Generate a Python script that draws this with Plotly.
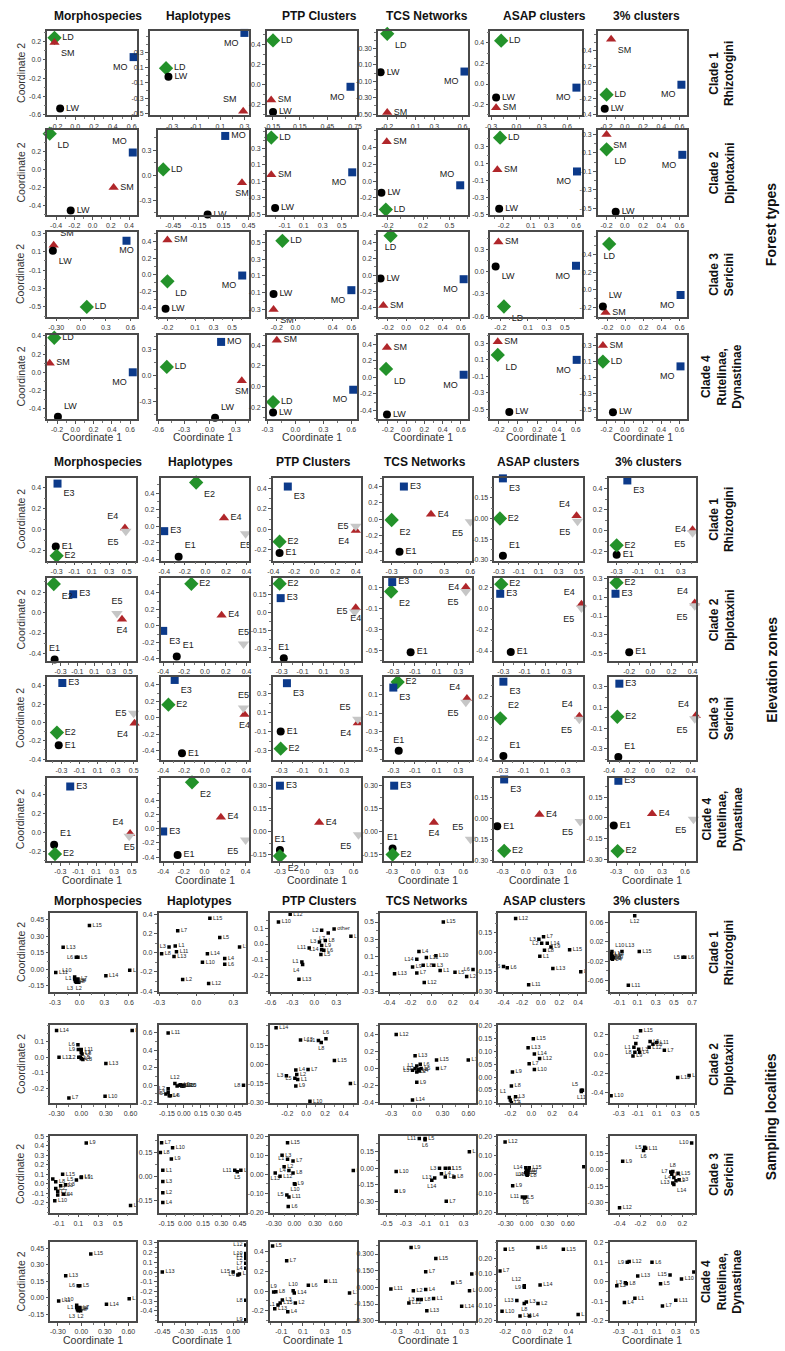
import plotly.graph_objects as go

W, H = 785, 1351

METHODS = ["Morphospecies", "Haplotypes", "PTP Clusters", "TCS Networks", "ASAP clusters", "3% clusters"]
CLADES = ["Clade 1<br>Rhizotogini", "Clade 2<br>Diplotaxini", "Clade 3<br>Sericini",
          "Clade 4<br>Rutelinae,<br>Dynastinae"]
SECTIONS = ["Forest types", "Elevation zones", "Sampling localities"]
FOREST_GROUPS = ["LD", "SM", "MO", "LW"]
ELEV_GROUPS = ["E1", "E2", "E3", "E4", "E5"]

# ---------------- Forest types (LD, SM, MO, LW), one list per method ----------------
FOREST_C1_X = [[-0.22, -0.22, 0.62, -0.16], [-0.35, 0.29, 0.30, -0.33], [-0.14, -0.16, 0.70, -0.14],
               [-0.20, -0.20, 0.62, -0.27], [-0.18, -0.24, 0.71, -0.24], [-0.20, -0.15, 0.62, -0.22]]
FOREST_C1_Y = [[0.24, 0.19, 0.03, -0.53], [0.09, -0.47, 0.55, -0.02], [0.44, -0.15, -0.02, -0.27],
               [0.48, -0.48, 0.02, 0.01], [0.42, -0.23, -0.035, -0.13], [-0.155, 0.54, -0.03, -0.33]]
FOREST_C2_X = [[-0.47, 0.23, 0.44, -0.24], [-0.57, 0.37, 0.17, -0.04], [-0.24, -0.24, 0.61, -0.20],
               [-0.22, -0.21, 0.62, -0.27], [-0.24, -0.27, 0.61, -0.25], [-0.20, -0.20, 0.63, -0.10]]
FOREST_C2_Y = [[0.40, -0.20, 0.19, -0.455], [0.07, -0.09, 0.47, -0.47], [0.43, -0.02, 0.01, -0.42],
               [-0.34, 0.47, -0.05, -0.14], [0.41, 0.03, 0.01, -0.43], [0.14, 0.30, 0.08, -0.54]]
FOREST_C3_X = [[0.07, -0.33, 0.55, -0.34], [-0.20, -0.20, 0.61, -0.22], [-0.14, -0.235, 0.60, -0.235],
               [-0.17, -0.25, 0.63, -0.28], [-0.16, -0.22, 0.62, -0.25], [-0.18, -0.22, 0.61, -0.25]]
FOREST_C3_Y = [[-0.50, 0.17, 0.22, 0.11], [-0.08, 0.42, -0.01, -0.41], [0.52, -0.30, -0.07, -0.115],
               [0.48, -0.37, -0.05, -0.04], [-0.47, 0.40, 0.08, 0.07], [0.52, -0.26, -0.06, -0.19]]
FOREST_C4_X = [[-0.23, -0.28, 0.63, -0.19], [-0.50, 0.37, 0.13, 0.06], [-0.24, -0.20, 0.62, -0.24],
               [-0.22, -0.21, 0.63, -0.21], [-0.21, -0.21, 0.61, -0.09], [-0.24, -0.24, 0.61, -0.13]]
FOREST_C4_Y = [[0.38, 0.10, 0.00, -0.49], [0.10, -0.06, 0.39, -0.49], [-0.15, 0.45, -0.03, -0.25],
               [0.10, 0.36, 0.03, -0.45], [0.16, 0.32, 0.10, -0.53], [0.10, 0.30, 0.04, -0.53]]

FOREST_C1_XT = [["-0.2", "0.0", "0.2", "0.4", "0.6"], ["-0.3", "-0.1", "0.1", "0.3"], ["-0.15", "0.15", "0.45", "0.75"],
                ["-0.2", "0.1", "0.3", "0.6"], ["-0.3", "0.0", "0.3", "0.6"], ["-0.2", "0.0", "0.2", "0.4", "0.6"]]
FOREST_C1_YT = [["-0.6", "-0.4", "-0.2", "0.0", "0.2"], ["-0.5", "-0.3", "-0.1", "0.1", "0.3"], ["-0.2", "0.0", "0.2", "0.4"],
                ["-0.50", "-0.30", "-0.10", "0.10", "0.30"], ["-0.2", "0.0", "0.2", "0.4"], ["-0.4", "-0.2", "0.0", "0.2", "0.4"]]
FOREST_C2_XT = [["-0.4", "-0.2", "0.0", "0.2", "0.4"], ["-0.45", "-0.15", "0.15", "0.45"], ["-0.1", "0.1", "0.3", "0.5"],
                ["-0.2", "0.2", "0.5"], ["-0.2", "0.1", "0.3", "0.6"], ["-0.2", "0.0", "0.2", "0.4", "0.6"]]
FOREST_C2_YT = [["-0.4", "-0.2", "0.0", "0.2"], ["-0.3", "0.0", "0.3"], ["-0.5", "-0.3", "-0.1", "0.1", "0.3"],
                ["-0.4", "-0.2", "0.0", "0.2", "0.4"], ["-0.5", "-0.3", "-0.1", "0.1", "0.3"], ["-0.5", "-0.3", "-0.1", "0.1", "0.3"]]
FOREST_C3_XT = [["-0.30", "0.0", "0.3", "0.6"], ["-0.2", "0.1", "0.3", "0.5"], ["-0.2", "0.0", "0.4", "0.6"],
                ["-0.2", "0.0", "0.2", "0.4", "0.6"], ["-0.2", "0.1", "0.3", "0.5"], ["-0.2", "0.0", "0.2", "0.4", "0.6"]]
FOREST_C3_YT = [["-0.5", "-0.3", "-0.1", "0.1", "0.3"], ["-0.4", "-0.2", "0.0", "0.2", "0.4"], ["-0.3", "-0.1", "0.1", "0.3", "0.5"],
                ["-0.4", "-0.2", "0.0", "0.2", "0.4"], ["-0.6", "-0.3", "0.0", "0.3"], ["-0.2", "0.0", "0.2", "0.4"]]
FOREST_C4_XT = [["-0.2", "0.0", "0.2", "0.4", "0.6"], ["-0.6", "-0.3", "0.0", "0.3"], ["-0.3", "0.0", "0.3", "0.6"],
                ["-0.2", "0.0", "0.2", "0.4", "0.6"], ["-0.2", "0.0", "0.2", "0.4", "0.6"], ["-0.2", "0.0", "0.2", "0.4", "0.6"]]
FOREST_C4_YT = [["-0.4", "-0.2", "0.0", "0.2", "0.4"], ["-0.3", "0.0", "0.3"], ["-0.2", "0.0", "0.2", "0.4"],
                ["-0.4", "-0.2", "0.0", "0.2", "0.4"], ["-0.5", "-0.3", "-0.1", "0.1", "0.3"], ["-0.5", "-0.3", "-0.1", "0.1", "0.3"]]

# axis windows
FOREST_C1_XR = [[-0.29, 0.65], [-0.48, 0.335], [-0.2, 0.76], [-0.29, 0.65], [-0.3, 0.77], [-0.29, 0.68]]
FOREST_C1_YR = [[-0.6, 0.31], [-0.52, 0.57], [-0.3, 0.53], [-0.51, 0.51], [-0.3, 0.51], [-0.41, 0.64]]
FOREST_C2_XR = [[-0.49, 0.48], [-0.63, 0.45], [-0.28, 0.65], [-0.3, 0.7], [-0.34, 0.66], [-0.29, 0.68]]
FOREST_C2_YR = [[-0.5, 0.43], [-0.47, 0.53], [-0.5, 0.51], [-0.4, 0.6], [-0.5, 0.49], [-0.57, 0.34]]
FOREST_C3_XR = [[-0.4, 0.67], [-0.3, 0.68], [-0.3, 0.65], [-0.3, 0.67], [-0.3, 0.68], [-0.3, 0.68]]
FOREST_C3_YR = [[-0.6, 0.31], [-0.5, 0.51], [-0.38, 0.62], [-0.5, 0.52], [-0.6, 0.53], [-0.3, 0.65]]
FOREST_C4_XR = [[-0.3, 0.67], [-0.6, 0.45], [-0.3, 0.65], [-0.3, 0.67], [-0.28, 0.66], [-0.29, 0.68]]
FOREST_C4_YR = [[-0.51, 0.41], [-0.5, 0.47], [-0.31, 0.5], [-0.5, 0.51], [-0.61, 0.4], [-0.61, 0.43]]

# label placement (LD SM MO LW)
FOREST_POS = [["r br bl r", "r tl bl r", "r r bl r", "br r bl r", "r r bl r", "r br bl r"],
              ["br r tl r", "r b r r", "r r bl r", "r r tl r", "r r bl r", "br br bl r"],
              ["r tr b br", "br r bl r", "r br bl r", "b r bl r", "br r bl br", "b r bl tr"],
              ["r r bl tr", "r b r tr", "r r bl r", "br r bl r", "br r bl r", "r r bl r"]]

# ---------------- Elevation zones (E1..E5) ----------------
ELEV_C1_X = [[-0.31, -0.30, -0.29, 0.48, 0.49], [-0.26, -0.09, -0.40, 0.18, 0.39], [-0.34, -0.34, -0.26, 0.40, 0.40],
             [-0.21, -0.30, -0.16, 0.15, 0.60], [-0.26, -0.29, -0.26, 0.48, 0.49], [-0.30, -0.30, -0.20, 0.41, 0.41]]
ELEV_C1_Y = [[-0.16, -0.25, 0.44, 0.015, -0.015], [-0.37, 0.53, -0.06, 0.10, -0.09], [-0.23, -0.12, 0.42, -0.01, 0.03],
             [-0.40, -0.01, 0.40, 0.06, -0.03], [-0.27, 0.00, 0.29, 0.02, -0.02], [-0.23, -0.14, 0.48, 0.01, -0.02]]
ELEV_C2_X = [[-0.37, -0.38, -0.15, 0.43, 0.37], [-0.27, -0.13, -0.40, 0.16, 0.37], [-0.28, -0.32, -0.31, 0.41, 0.40],
             [-0.14, -0.32, -0.31, 0.37, 0.37], [-0.23, -0.32, -0.33, 0.44, 0.44], [-0.20, -0.32, -0.33, 0.42, 0.42]]
ELEV_C2_Y = [[-0.46, 0.28, 0.18, -0.065, -0.01], [-0.37, 0.51, -0.06, 0.13, -0.22], [-0.38, 0.24, 0.12, 0.04, 0.005],
             [-0.52, 0.06, 0.15, 0.10, 0.06], [-0.41, 0.23, 0.14, 0.04, 0.005], [-0.49, 0.26, 0.14, 0.04, 0.01]]
ELEV_C3_X = [[-0.33, -0.35, -0.29, 0.51, 0.50], [-0.22, -0.35, -0.29, 0.38, 0.37], [-0.31, -0.31, -0.25, 0.43, 0.43],
             [-0.25, -0.26, -0.30, 0.38, 0.37], [-0.29, -0.32, -0.29, 0.43, 0.43], [-0.31, -0.32, -0.30, 0.45, 0.44]]
ELEV_C3_Y = [[-0.25, -0.11, 0.43, -0.01, 0.10], [-0.43, 0.16, 0.46, 0.04, 0.12], [-0.10, -0.28, 0.41, -0.01, 0.03],
             [-0.51, 0.24, 0.18, 0.06, 0.02], [-0.37, -0.01, 0.34, 0.01, -0.02], [-0.38, 0.01, 0.33, 0.02, -0.01]]
ELEV_C4_X = [[-0.37, -0.36, -0.19, 0.48, 0.47], [-0.26, -0.12, -0.40, 0.16, 0.40], [-0.30, -0.30, -0.30, 0.18, 0.66],
             [-0.29, -0.29, -0.27, 0.23, 0.69], [-0.37, -0.28, -0.28, 0.18, 0.71], [-0.33, -0.28, -0.27, 0.17, 0.71]]
ELEV_C4_Y = [[-0.13, -0.23, 0.49, -0.01, -0.04], [-0.37, 0.65, -0.04, 0.16, -0.16], [-0.12, -0.16, 0.30, 0.06, -0.02],
             [-0.11, -0.15, 0.30, 0.06, -0.05], [-0.055, -0.23, 0.28, 0.03, -0.02], [-0.055, -0.24, 0.27, 0.03, -0.01]]

ELEV_C1_XT = [["-0.3", "-0.1", "0.1", "0.3", "0.5"], ["-0.4", "-0.2", "0.0", "0.2", "0.4"], ["-0.4", "-0.2", "0.0", "0.2", "0.4"],
              ["-0.3", "0.0", "0.3", "0.6"], ["-0.3", "-0.1", "0.1", "0.3", "0.5"], ["-0.3", "-0.1", "0.1", "0.3"]]
ELEV_C1_YT = [["-0.2", "0.0", "0.2", "0.4"], ["-0.4", "-0.2", "0.0", "0.2", "0.4"], ["-0.2", "0.0", "0.2", "0.4"],
              ["-0.4", "-0.2", "0.0", "0.2", "0.4"], ["-0.30", "-0.15", "0.00", "0.15"], ["-0.2", "0.0", "0.2", "0.4"]]
ELEV_C2_XT = [["-0.3", "-0.1", "0.1", "0.3", "0.5"], ["-0.4", "-0.2", "0.0", "0.2", "0.4"], ["-0.3", "-0.1", "0.1", "0.3"],
              ["-0.3", "-0.1", "0.1", "0.3"], ["-0.3", "-0.1", "0.1", "0.3"], ["-0.4", "-0.2", "0.0", "0.2", "0.4"]]
ELEV_C2_YT = [["-0.4", "-0.2", "0.0", "0.2"], ["-0.4", "-0.2", "0.0", "0.2", "0.4"], ["-0.3", "-0.15", "0.0", "0.15"],
              ["-0.5", "-0.3", "-0.1", "0.1"], ["-0.4", "-0.2", "0.0", "0.2"], ["-0.5", "-0.3", "-0.1", "0.1", "0.3"]]
ELEV_C3_XT = [["-0.3", "-0.1", "0.1", "0.3", "0.5"], ["-0.4", "-0.2", "0.0", "0.2", "0.4"], ["-0.3", "-0.1", "0.1", "0.3"],
              ["-0.3", "-0.1", "0.1", "0.3"], ["-0.3", "-0.1", "0.1", "0.3"], ["-0.4", "-0.2", "0.0", "0.2", "0.4"]]
ELEV_C3_YT = [["-0.4", "-0.2", "0.0", "0.2", "0.4"], ["-0.4", "-0.2", "0.0", "0.2", "0.4"], ["-0.3", "-0.1", "0.1", "0.3"],
              ["-0.5", "-0.3", "-0.1", "0.1", "0.3"], ["-0.4", "-0.2", "0.0", "0.2"], ["-0.3", "-0.1", "0.1", "0.3"]]
ELEV_C4_XT = [["-0.3", "-0.1", "0.1", "0.3", "0.5"], ["-0.4", "-0.2", "0.0", "0.2", "0.4"], ["-0.3", "0.0", "0.3", "0.6"],
              ["-0.3", "0.0", "0.3", "0.6"], ["-0.3", "0.0", "0.3", "0.6"], ["-0.3", "0.0", "0.3", "0.6"]]
ELEV_C4_YT = [["-0.2", "0.0", "0.2", "0.4"], ["-0.4", "-0.2", "0.0", "0.2", "0.4"], ["-0.15", "0.00", "0.15", "0.30"],
              ["-0.15", "0.00", "0.15", "0.30"], ["-0.30", "-0.15", "0.00", "0.15"], ["-0.30", "-0.15", "0.00", "0.15"]]

ELEV_C1_XR = [[-0.4, 0.6], [-0.43, 0.42], [-0.4, 0.45], [-0.38, 0.61], [-0.34, 0.54], [-0.37, 0.44]]
ELEV_C1_YR = [[-0.29, 0.49], [-0.41, 0.58], [-0.3, 0.5], [-0.5, 0.5], [-0.3, 0.29], [-0.28, 0.5]]
ELEV_C2_XR = [[-0.45, 0.59], [-0.42, 0.42], [-0.38, 0.46], [-0.38, 0.42], [-0.38, 0.45], [-0.39, 0.43]]
ELEV_C2_YR = [[-0.47, 0.33], [-0.42, 0.57], [-0.4, 0.28], [-0.6, 0.18], [-0.49, 0.28], [-0.58, 0.3]]
ELEV_C3_XR = [[-0.45, 0.52], [-0.42, 0.42], [-0.38, 0.46], [-0.38, 0.42], [-0.37, 0.46], [-0.4, 0.45]]
ELEV_C3_YR = [[-0.4, 0.49], [-0.5, 0.49], [-0.39, 0.47], [-0.6, 0.29], [-0.4, 0.38], [-0.4, 0.39]]
ELEV_C4_XR = [[-0.44, 0.54], [-0.42, 0.43], [-0.38, 0.69], [-0.39, 0.7], [-0.4, 0.74], [-0.39, 0.74]]
ELEV_C4_YR = [[-0.3, 0.58], [-0.45, 0.71], [-0.19, 0.35], [-0.19, 0.35], [-0.3, 0.29], [-0.31, 0.29]]

ELEV_POS = [["r r br tl bl", "tr br r r b", "r r br bl l", "r br r r bl", "tr r br tl bl", "r r br l bl"],
            ["t br r b t", "tr r br r t", "t r r b l", "r br r l bl", "r r r tl bl", "r r r tl bl"],
            ["r r r bl l", "r r br b t", "r r br bl tl", "t r br tl bl", "tr tr br tl bl", "tr r r tl bl"],
            ["tr r r tl b", "r br r r bl", "t br r r bl", "t r r b tl", "r r br r bl", "r r r r bl"]]

# ---------------- Sampling localities ----------------
MORPH_LOC_N = ["L15", "L13", "L6", "L5", "L11", "L14", "L12", "L10", "L1", "L9", "L7", "L3", "L2", "L4", "L8"]
MORPH_LOC_X = [0.12, -0.20, -0.04, -0.02, -0.29, 0.32, 0.61, -0.06, -0.06, -0.05, -0.02, -0.04, -0.01, -0.03, -0.05]
MORPH_LOC_Y = [0.40, 0.20, 0.11, 0.11, -0.03, -0.06, -0.01, -0.07, -0.09, -0.10, -0.09, -0.12, -0.12, -0.10, -0.11]

LOC_C1_N = [MORPH_LOC_N,
            ["L15", "L7", "L5", "L9", "L3", "L1", "L11", "L8", "L13", "L14", "L4", "L6", "L10", "L2", "L12"],
            ["L12", "L10", "L2", "other", "L7", "L15", "L8", "L3", "L9", "L11", "L14", "L6", "L5", "L1", "L4", "L13"],
            ["L15", "L4", "L10", "L14", "L11", "L9", "L8", "L3", "L1", "L7", "L5", "L6", "L2", "L13", "L12"],
            ["L12", "L7", "L3", "L2", "L14", "L9", "L8", "L1", "L15", "L5", "L6", "L13", "L4", "L11"],
            ["L12", "L10", "L13", "L15", "L5", "L6", "L11", "L1", "L2", "L3", "L4", "L7", "L8", "L9", "L14"]]
LOC_C1_X = [MORPH_LOC_X,
            [0.11, -0.15, 0.19, 0.35, -0.22, -0.17, -0.16, -0.28, -0.18, 0.09, 0.23, 0.23, 0.05, -0.11, 0.10],
            [-0.33, -0.49, 0.10, 0.27, 0.19, 0.50, 0.15, 0.07, 0.10, -0.07, 0.10, 0.13, 0.09, -0.17, -0.16, -0.21],
            [0.11, -0.12, 0.04, -0.14, -0.05, -0.18, -0.08, 0.02, 0.08, -0.14, 0.22, 0.39, 0.33, -0.35, -0.07],
            [-0.27, 0.03, -0.02, 0.01, 0.07, 0.11, 0.04, -0.01, 0.31, -0.40, -0.36, 0.13, 0.43, -0.13],
            [0.07, -0.18, -0.07, 0.12, 0.60, 0.62, 0.00, -0.19, -0.185, -0.18, -0.175, -0.17, -0.19, -0.16, -0.185]]
LOC_C1_Y = [MORPH_LOC_Y,
            [0.36, 0.23, 0.16, 0.06, 0.06, 0.07, 0.01, -0.01, -0.04, -0.01, -0.06, -0.12, -0.10, -0.28, -0.32],
            [0.19, 0.14, 0.087, 0.095, 0.07, 0.05, 0.023, 0.013, -0.01, -0.025, -0.036, -0.04, -0.067, -0.115, -0.13, -0.225],
            [0.50, 0.16, 0.11, 0.07, 0.09, -0.02, 0.00, 0.00, -0.06, -0.09, -0.08, -0.05, -0.13, -0.10, -0.20],
            [0.26, 0.12, 0.10, 0.07, 0.07, 0.04, 0.015, -0.03, 0.02, -0.11, -0.12, -0.125, -0.15, -0.25],
            [0.074, 0.0, 0.0, 0.0, -0.012, -0.012, -0.07, -0.004, -0.008, -0.012, -0.016, -0.01, -0.014, -0.013, -0.006]]

LOC_C2_N = [["L14", "L15", "L6", "L9", "L11", "L1", "L8", "L12", "L2", "L5", "L4", "L3", "L13", "L7", "L10"],
            ["L11", "L8", "L12", "L14", "L15", "L1", "L10", "L9", "L7", "L13", "L2", "L3", "L5", "L4", "L6"],
            ["L14", "L13", "L11", "L6", "L8", "L15", "L7", "L4", "L2", "L3", "L5", "L1", "L9", "L10", "L12"],
            ["L12", "L13", "L15", "L10", "L7", "L6", "L1", "L11", "L3", "L8", "L2", "L4", "L5", "L9", "L14"],
            ["L15", "L13", "L14", "L12", "L7", "L10", "L9", "L8", "L5", "L6", "L11", "L1", "L3", "L2", "L4"],
            ["L15", "L2", "L5", "L11", "L6", "L12", "L1", "L3", "L8", "L4", "L9", "L7", "L13", "L14", "L10"]]
LOC_C2_X = [[-0.30, 0.62, -0.04, -0.035, 0.0, 0.0, 0.01, -0.27, -0.03, -0.01, 0.0, 0.02, 0.30, -0.15, 0.29],
            [-0.14, 0.53, -0.08, -0.04, 0.0, -0.06, 0.0, -0.03, -0.01, -0.02, -0.14, -0.14, -0.16, -0.13, -0.12],
            [-0.32, -0.06, 0.13, 0.21, 0.16, 0.30, 0.02, -0.11, -0.10, -0.21, -0.12, -0.09, -0.11, 0.04, 0.47],
            [-0.24, -0.02, 0.23, 0.60, 0.24, 0.04, 0.0, -0.02, -0.05, 0.02, 0.0, 0.03, 0.05, 0.0, -0.05],
            [0.02, -0.03, 0.03, 0.08, -0.02, 0.03, -0.18, -0.19, 0.48, 0.49, 0.48, -0.21, -0.15, -0.20, -0.19],
            [-0.07, -0.12, 0.03, 0.10, 0.06, 0.02, -0.14, -0.09, -0.13, -0.08, -0.15, 0.18, 0.32, 0.44, -0.38]]
LOC_C2_Y = [[0.17, 0.17, 0.08, 0.05, 0.05, 0.03, 0.02, 0.0, 0.0, 0.0, -0.01, -0.015, -0.04, -0.26, -0.25],
            [0.60, 0.0, 0.02, 0.0, 0.0, -0.01, -0.01, 0.005, -0.005, -0.01, -0.04, -0.08, -0.10, -0.12, -0.12],
            [0.285, 0.19, 0.185, 0.20, 0.17, 0.03, -0.04, -0.045, -0.08, -0.09, -0.11, -0.12, -0.17, -0.29, -0.15],
            [0.40, 0.15, 0.10, 0.10, 0.0, 0.05, 0.03, 0.0, -0.02, -0.01, -0.04, -0.03, 0.0, -0.16, -0.37],
            [0.15, 0.115, 0.09, 0.073, 0.052, 0.03, 0.02, -0.035, -0.052, -0.052, -0.056, -0.08, -0.077, -0.09, -0.10],
            [0.24, 0.11, 0.13, 0.12, 0.10, 0.07, 0.07, 0.05, 0.02, 0.02, -0.02, 0.04, -0.24, -0.22, -0.43]]

LOC_C3_N = [["L9", "L15", "L5", "L6", "L11", "L1", "L8", "L3", "L13", "L2", "L7", "L4", "L14", "L10", "L12"],
            ["L7", "L10", "L8", "L9", "L1", "L3", "L2", "L4", "L11", "L6", "L5"],
            ["L15", "L3", "L1", "L7", "L2", "L4", "L8", "L13", "L12", "L9", "L10", "L5", "L11", "L6", "L14"],
            ["L11", "L5", "L6", "L10", "L9", "L15", "L3", "L1", "L4", "L13", "L2", "L14", "L8", "L7", "L12"],
            ["L12", "L14", "L15", "L1", "L3", "L4", "L2", "L7", "L9", "L11", "L6", "L5", "L8", "L13", "L10"],
            ["L10", "L5", "L11", "L6", "L9", "L8", "L7", "L15", "L4", "L3", "L13", "L14", "L12", "L1", "L2"]]
LOC_C3_X = [[0.18, -0.06, 0.08, 0.13, 0.13, -0.16, -0.13, -0.03, -0.08, -0.13, -0.11, -0.05, -0.11, -0.14, 0.63],
            [-0.19, -0.10, -0.20, -0.11, -0.18, -0.18, -0.18, -0.18, 0.41, 0.46, 0.43],
            [-0.10, -0.18, -0.10, -0.02, -0.15, -0.08, -0.02, -0.28, -0.21, 0.0, 0.01, -0.11, -0.08, -0.09, 0.86],
            [-0.16, -0.10, -0.10, -0.40, -0.40, 0.15, 0.05, 0.11, 0.07, 0.0, 0.11, -0.03, 0.20, 0.12, 0.36],
            [-0.31, -0.01, 0.04, 0.0, 0.02, 0.0, -0.01, 0.03, -0.20, -0.06, -0.01, -0.03, 0.01, 0.02, 0.83],
            [0.29, -0.16, -0.15, -0.17, -0.37, 0.11, 0.09, 0.16, 0.12, 0.17, 0.11, 0.12, -0.40, 0.10, 0.14]]
LOC_C3_Y = [[0.43, 0.10, 0.04, 0.07, 0.065, 0.05, 0.02, -0.01, -0.02, -0.05, -0.08, -0.11, -0.12, -0.18, -0.23],
            [0.21, 0.18, 0.15, 0.11, 0.04, -0.03, -0.10, -0.16, 0.04, 0.04, 0.03],
            [0.166, 0.10, 0.08, 0.07, 0.04, 0.02, 0.007, 0.007, -0.01, -0.05, -0.052, -0.11, -0.12, -0.17, 0.02],
            [0.27, 0.27, 0.26, -0.03, -0.21, 0.0, 0.0, 0.0, -0.05, -0.09, -0.08, -0.11, -0.08, -0.30, 0.15],
            [0.17, 0.035, 0.035, 0.02, 0.01, 0.0, 0.01, 0.02, -0.06, -0.12, -0.12, -0.125, -0.005, 0.0, 0.04],
            [0.25, 0.21, 0.20, 0.18, 0.08, -0.015, -0.02, -0.03, -0.07, -0.09, -0.12, -0.135, -0.35, -0.04, -0.10]]

LOC_C4_N = [MORPH_LOC_N,
            ["L13", "L15", "L12", "L10", "L2", "L7", "L4", "L14", "L6", "L8", "L9", "L1"],
            ["L5", "L7", "L11", "L6", "L10", "L14", "L9", "L8", "L3", "L2", "L1", "L13", "L4", "L15", "L12"],
            ["L9", "L15", "L7", "L5", "L10", "L11", "L2", "L4", "L6", "L3", "L8", "L12", "L1", "L14", "L13"],
            ["L5", "L6", "L15", "L7", "L14", "L12", "L9", "L13", "L3", "L8", "L2", "L10", "L11", "L4", "L1"],
            ["L9", "L12", "L6", "L13", "L15", "L10", "L3", "L8", "L2", "L5", "L1", "L4", "L11", "L7", "L14"]]
LOC_C4_X = [MORPH_LOC_X,
            [-0.45, 0.0, 0.08, 0.08, 0.08, 0.08, 0.08, 0.04, 0.03, 0.08, 0.08, 0.08],
            [-0.18, -0.05, 0.31, 0.15, 0.01, 0.02, -0.17, -0.15, -0.09, 0.03, -0.13, -0.16, -0.04, -0.11, 0.53],
            [-0.17, 0.05, -0.04, 0.20, 0.37, -0.35, -0.15, -0.04, 0.35, -0.11, -0.08, -0.19, 0.03, 0.28, -0.03],
            [-0.20, 0.11, 0.35, -0.25, 0.13, -0.02, -0.02, -0.09, 0.0, -0.02, 0.11, -0.23, -0.06, 0.03, 0.49],
            [-0.21, -0.19, 0.05, -0.10, 0.24, 0.36, -0.23, -0.22, -0.32, 0.14, -0.13, -0.24, 0.30, 0.16, 0.49]]
LOC_C4_Y = [MORPH_LOC_Y,
            [0.0, 0.0, 0.28, 0.19, 0.14, 0.09, 0.04, -0.02, -0.03, -0.29, -0.49, 0.17],
            [0.46, 0.31, 0.10, 0.06, 0.005, -0.02, -0.01, -0.005, -0.09, -0.12, -0.14, -0.18, -0.21, -0.12, -0.02],
            [0.36, 0.26, 0.14, 0.04, 0.12, -0.015, -0.03, -0.02, -0.03, -0.11, -0.11, -0.14, -0.10, -0.17, -0.21],
            [0.26, 0.27, 0.26, 0.12, 0.03, 0.025, 0.015, -0.07, -0.08, -0.09, -0.09, -0.14, -0.17, -0.17, -0.16],
            [0.10, 0.105, 0.10, 0.03, 0.035, 0.015, -0.005, -0.01, -0.02, -0.01, -0.085, -0.107, -0.095, -0.125, 0.05]]

LOC_C1_XT = [["-0.3", "0.0", "0.3", "0.6"], ["-0.3", "0.0", "0.3"], ["-0.6", "-0.3", "0.0", "0.3"],
             ["-0.4", "-0.2", "0.0", "0.2", "0.4"], ["-0.4", "-0.2", "0.0", "0.2", "0.4"], ["-0.1", "0.1", "0.3", "0.5", "0.7"]]
LOC_C1_YT = [["-0.15", "0.00", "0.15", "0.30", "0.45"], ["-0.4", "-0.2", "0.0", "0.2", "0.4"], ["-0.2", "-0.1", "0.0", "0.1"],
             ["-0.3", "-0.1", "0.1", "0.3", "0.5"], ["-0.30", "-0.15", "0.00", "0.15"], ["-0.06", "-0.02", "0.02", "0.06"]]
LOC_C2_XT = [["-0.30", "0.00", "0.30", "0.60"], ["-0.15", "0.00", "0.15", "0.30", "0.45"], ["-0.4", "-0.2", "0.0", "0.2", "0.4"],
             ["-0.3", "0.0", "0.30", "0.60"], ["-0.2", "0.0", "0.2", "0.4"], ["-0.3", "-0.1", "0.1", "0.3", "0.5"]]
LOC_C2_YT = [["-0.2", "-0.1", "0.0", "0.1"], ["-0.2", "0.0", "0.2", "0.4", "0.6"], ["-0.30", "-0.15", "0.00", "0.15"],
             ["-0.4", "-0.2", "0.0", "0.2", "0.4"], ["-0.10", "-0.05", "0.00", "0.05", "0.10", "0.15", "0.20"],
             ["-0.4", "-0.2", "0.0", "0.2"]]
LOC_C3_XT = [["-0.1", "0.1", "0.3", "0.5", "0.7"], ["-0.15", "0.00", "0.15", "0.30", "0.45"], ["-0.30", "0.00", "0.30", "0.60"],
             ["-0.5", "-0.3", "-0.1", "0.1", "0.3"], ["-0.30", "0.00", "0.30", "0.60"], ["-0.4", "-0.2", "0.0", "0.2"]]
LOC_C3_YT = [["-0.2", "-0.1", "0.0", "0.1", "0.2", "0.3", "0.4", "0.5"], ["-0.15", "0.00", "0.15"],
             ["-0.20", "-0.10", "0.00", "0.10", "0.20"], ["-0.30", "-0.15", "0.00", "0.15"],
             ["-0.20", "-0.10", "0.00", "0.10", "0.20"], ["-0.30", "-0.15", "0.00", "0.15"]]
LOC_C4_XT = [["-0.30", "0.00", "0.30", "0.60"], ["-0.45", "-0.30", "-0.15", "0.00"], ["-0.1", "0.1", "0.3", "0.5"],
             ["-0.3", "-0.1", "0.1", "0.3"], ["-0.2", "0.0", "0.2", "0.4"], ["-0.3", "-0.1", "0.1", "0.3", "0.5"]]
LOC_C4_YT = [["-0.15", "0.00", "0.15", "0.30", "0.45"], ["-0.4", "-0.3", "-0.2", "-0.1", "0.0", "0.1", "0.2", "0.3"],
             ["-0.2", "0.0", "0.2", "0.4"], ["-0.300", "-0.150", "0.000", "0.150", "0.300"],
             ["-0.20", "-0.10", "0.00", "0.10", "0.20"], ["-0.2", "-0.1", "0.0", "0.1", "0.2"]]

LOC_C1_XR = [[-0.35, 0.68], [-0.3, 0.4], [-0.6, 0.57], [-0.48, 0.41], [-0.45, 0.47], [-0.2, 0.73]]
LOC_C1_YR = [[-0.2, 0.51], [-0.4, 0.41], [-0.3, 0.195], [-0.3, 0.6], [-0.3, 0.3], [-0.082, 0.079]]
LOC_C2_XR = [[-0.37, 0.66], [-0.22, 0.55], [-0.38, 0.53], [-0.42, 0.68], [-0.31, 0.51], [-0.39, 0.5]]
LOC_C2_YR = [[-0.29, 0.2], [-0.2, 0.68], [-0.3, 0.3], [-0.4, 0.5], [-0.1, 0.2], [-0.5, 0.29]]
LOC_C3_XR = [[-0.18, 0.68], [-0.21, 0.5], [-0.35, 0.9], [-0.56, 0.42], [-0.4, 0.84], [-0.49, 0.32]]
LOC_C3_YR = [[-0.3, 0.5], [-0.22, 0.25], [-0.2, 0.2], [-0.4, 0.29], [-0.2, 0.2], [-0.39, 0.31]]
LOC_C4_XR = [[-0.39, 0.69], [-0.47, 0.08], [-0.2, 0.59], [-0.44, 0.4], [-0.26, 0.55], [-0.39, 0.5]]
LOC_C4_YR = [[-0.21, 0.5], [-0.5, 0.3], [-0.3, 0.49], [-0.3, 0.4], [-0.2, 0.3], [-0.2, 0.2]]

# label side for locality points (default: right of the point)
LOC_POS = [
    [{"L6": "l", "L10": "tl", "L1": "l", "L3": "bl", "L2": "b"}, {"L3": "l"},
     {"L2": "l", "L7": "bl", "L3": "l", "L11": "l", "L14": "l", "L1": "l", "L4": "bl"},
     {"L14": "l", "L6": "l"}, {"L3": "l", "L2": "l", "L5": "l"},
     {"L12": "b", "L13": "tr", "L10": "tr", "L5": "l"}],
    [{"L6": "l", "L9": "l", "L2": "l"}, {"L8": "l", "L12": "t", "L5": "l", "L2": "l", "L3": "l"},
     {"L11": "l", "L6": "t", "L8": "b", "L5": "l", "L3": "l"}, {"L1": "l", "L3": "l", "L11": "l"},
     {"L5": "tl", "L1": "tl", "L11": "b"}, {"L2": "t", "L1": "l", "L8": "l"}],
    [{"L5": "l", "L1": "l"}, {"L11": "l", "L5": "b"}, {"L1": "l", "L4": "l", "L13": "b", "L10": "b", "L5": "l"},
     {"L11": "l", "L3": "l", "L6": "b", "L13": "l", "L14": "b"},
     {"L14": "l", "L11": "l", "L6": "b", "L4": "l", "L13": "l"},
     {"L10": "l", "L5": "l", "L6": "b", "L8": "t", "L7": "l", "L4": "l", "L13": "l", "L14": "br"}],
    [{"L6": "l", "L10": "tl", "L1": "l", "L3": "bl", "L2": "b"},
     {"L12": "l", "L10": "l", "L2": "l", "L7": "l", "L4": "l", "L8": "l", "L9": "l", "L1": "l", "L15": "l", "L6": "l"},
     {"L10": "t", "L9": "t", "L1": "l"}, {"L3": "l"}, {"L12": "tl", "L9": "l", "L13": "l", "L8": "b"},
     {"L9": "l", "L15": "l", "L3": "l"}],
]

FOREST = [(FOREST_C1_X, FOREST_C1_Y, FOREST_C1_XT, FOREST_C1_YT, FOREST_C1_XR, FOREST_C1_YR),
          (FOREST_C2_X, FOREST_C2_Y, FOREST_C2_XT, FOREST_C2_YT, FOREST_C2_XR, FOREST_C2_YR),
          (FOREST_C3_X, FOREST_C3_Y, FOREST_C3_XT, FOREST_C3_YT, FOREST_C3_XR, FOREST_C3_YR),
          (FOREST_C4_X, FOREST_C4_Y, FOREST_C4_XT, FOREST_C4_YT, FOREST_C4_XR, FOREST_C4_YR)]
ELEV = [(ELEV_C1_X, ELEV_C1_Y, ELEV_C1_XT, ELEV_C1_YT, ELEV_C1_XR, ELEV_C1_YR),
        (ELEV_C2_X, ELEV_C2_Y, ELEV_C2_XT, ELEV_C2_YT, ELEV_C2_XR, ELEV_C2_YR),
        (ELEV_C3_X, ELEV_C3_Y, ELEV_C3_XT, ELEV_C3_YT, ELEV_C3_XR, ELEV_C3_YR),
        (ELEV_C4_X, ELEV_C4_Y, ELEV_C4_XT, ELEV_C4_YT, ELEV_C4_XR, ELEV_C4_YR)]
LOC = [(LOC_C1_N, LOC_C1_X, LOC_C1_Y, LOC_C1_XT, LOC_C1_YT, LOC_C1_XR, LOC_C1_YR),
       (LOC_C2_N, LOC_C2_X, LOC_C2_Y, LOC_C2_XT, LOC_C2_YT, LOC_C2_XR, LOC_C2_YR),
       (LOC_C3_N, LOC_C3_X, LOC_C3_Y, LOC_C3_XT, LOC_C3_YT, LOC_C3_XR, LOC_C3_YR),
       (LOC_C4_N, LOC_C4_X, LOC_C4_Y, LOC_C4_XT, LOC_C4_YT, LOC_C4_XR, LOC_C4_YR)]

# ---------------- styling / geometry ----------------
FONT = "Liberation Sans, Arial, sans-serif"
GREEN, RED, BLUE, GREY = "#23922a", "#b0262a", "#0c3a8a", "#c6c6c6"
FOREST_STYLE = {"LD": ("diamond", GREEN, 11), "SM": ("triangle-up", RED, 9),
                "MO": ("square", BLUE, 8), "LW": ("circle", "#000000", 8)}
ELEV_STYLE = {"E1": ("circle", "#000000", 8), "E2": ("diamond", GREEN, 11), "E3": ("square", BLUE, 8),
              "E4": ("triangle-up", RED, 9), "E5": ("triangle-down", GREY, 10)}
POS = {"r": "middle right", "l": "middle left", "t": "top center", "b": "bottom center",
       "tr": "top right", "tl": "top left", "br": "bottom right", "bl": "bottom left"}

# panel boxes in pixels: columns (left, right), rows (top, bottom)
SEC_COLS = [[(42, 133), (154, 247), (265, 356), (378, 469), (492, 585), (601, 692)],
            [(42, 132), (157, 247), (271, 361), (384, 473), (496, 586), (612, 701)],
            [(45, 132), (155, 244), (268, 356), (380, 477), (500, 588), (613, 700)]]
SEC_ROWS = [[(28, 113), (128, 213), (230, 315), (333, 418)],
            [(477, 560), (578, 661), (677, 760), (778, 862)],
            [(914, 993), (1027, 1105), (1138, 1215), (1245, 1324)]]
TITLE_Y = [13, 461, 902]
TITLE_X = [[93, 195, 318, 428, 547, 650], [93, 198, 312, 425, 541, 652], [93, 196, 318, 428, 547, 650]]
XLABEL_Y = [436, 881, 1343]


def px(x):
    return x / W


def py(y):
    return 1 - y / H


def make_axis(dom, rng, labels, anchor):
    vals = [float(v) for v in labels]
    step = min(b - a for a, b in zip(vals, vals[1:]))
    span = rng[1] - rng[0]
    return dict(domain=dom, range=[rng[0] - 0.006 * span, rng[1] + 0.006 * span],
                tickmode="array", tickvals=vals, ticktext=labels, tickangle=0,
                showgrid=False, zeroline=False, showline=True, mirror=True,
                linecolor="#4a4a4a", linewidth=1.6,
                ticks="outside", ticklen=3, tickwidth=1, tickcolor="#555555",
                tickfont=dict(family=FONT, size=7, color="#333333"),
                minor=dict(ticks="outside", ticklen=2, tickwidth=0.8, tickcolor="#777777",
                           tickmode="linear", tick0=vals[0], dtick=step / 2),
                anchor=anchor, fixedrange=True)


fig = go.Figure()
axes = {}
ann = []
n = 0
for s in range(3):
    for c in range(4):
        for m in range(6):
            n += 1
            left, right = SEC_COLS[s][m]
            if s == 0 and c == 0 and m == 1:
                left = 146
            top, bottom = SEC_ROWS[s][c]
            xa = "x" if n == 1 else f"x{n}"
            ya = "y" if n == 1 else f"y{n}"
            if s < 2:
                xs_all, ys_all, xt_all, yt_all, xr_all, yr_all = (FOREST if s == 0 else ELEV)[c]
                groups = FOREST_GROUPS if s == 0 else ELEV_GROUPS
                style = FOREST_STYLE if s == 0 else ELEV_STYLE
                pos = (FOREST_POS if s == 0 else ELEV_POS)[c][m].split()
                fig.add_trace(go.Scatter(
                    x=xs_all[m], y=ys_all[m], xaxis=xa, yaxis=ya, mode="markers+text",
                    text=groups, textposition=[POS[p] for p in pos],
                    textfont=dict(family=FONT, size=9, color="#1a1a1a"),
                    marker=dict(symbol=[style[g][0] for g in groups], color=[style[g][1] for g in groups],
                                size=[style[g][2] for g in groups], opacity=1, line=dict(width=0)),
                    cliponaxis=False, hoverinfo="skip", showlegend=False))
            else:
                ns_all, xs_all, ys_all, xt_all, yt_all, xr_all, yr_all = LOC[c]
                names = ns_all[m]
                over = LOC_POS[c][m]
                fig.add_trace(go.Scatter(
                    x=xs_all[m], y=ys_all[m], xaxis=xa, yaxis=ya, mode="markers+text",
                    text=names, textposition=[POS[over.get(nm, "r")] for nm in names],
                    textfont=dict(family=FONT, size=5.5, color="#222222"),
                    marker=dict(symbol="square", color="#000000", size=3.5, opacity=1, line=dict(width=0)),
                    cliponaxis=True, hoverinfo="skip", showlegend=False))
            xt, yt, xr, yr = xt_all[m], yt_all[m], xr_all[m], yr_all[m]
            key = "" if n == 1 else str(n)
            axes["xaxis" + key] = make_axis([px(left), px(right)], xr, xt, ya)
            axes["yaxis" + key] = make_axis([py(bottom), py(top)], yr, yt, xa)

        # clade label and y axis title for this row
        top, bottom = SEC_ROWS[s][c]
        mid = (top + bottom) / 2
        ann.append(dict(x=px(727), y=py(mid), text="<b>" + CLADES[c].replace("<br>", "</b><br><b>") + "</b>",
                        textangle=-90, font=dict(family=FONT, size=12, color="#111111")))
        ann.append(dict(x=px(15), y=py(mid), text="Coordinate 2", textangle=-90,
                        font=dict(family=FONT, size=10.5, color="#333333")))

    for m in range(6):
        ann.append(dict(x=px(TITLE_X[s][m]), y=py(TITLE_Y[s]), text="<b>" + METHODS[m] + "</b>",
                        font=dict(family=FONT, size=12, color="#111111")))
        l, r = SEC_COLS[s][m]
        ann.append(dict(x=px((l + r) / 2), y=py(XLABEL_Y[s]), text="Coordinate 1",
                        font=dict(family=FONT, size=10.5, color="#333333")))
    rows = SEC_ROWS[s]
    ann.append(dict(x=px(777), y=py((rows[0][0] + rows[-1][1]) / 2), text="<b>" + SECTIONS[s] + "</b>",
                    textangle=-90, font=dict(family=FONT, size=14, color="#111111")))

for a in ann:
    a.update(xref="paper", yref="paper", showarrow=False, xanchor="center", yanchor="middle")

fig.update_layout(width=W, height=H, margin=dict(l=0, r=0, t=0, b=0),
                  paper_bgcolor="white", plot_bgcolor="white", showlegend=False,
                  annotations=ann, **axes)

fig.write_html("out.html")
